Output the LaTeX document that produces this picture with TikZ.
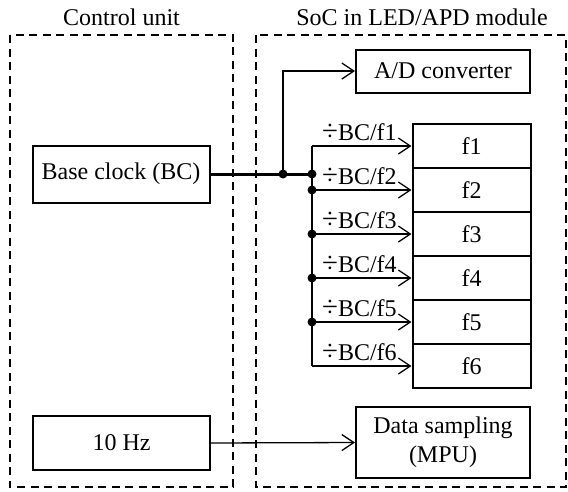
\documentclass[tikz,border=0pt]{standalone}
\usepackage{fontspec}
\setmainfont{Liberation Serif}
\usetikzlibrary{arrows.meta,positioning}

\begin{document}
\begin{tikzpicture}[x=1pt,y=-1pt,
  font=\fontsize{24}{28}\selectfont,
  blk/.style={draw,line width=2pt,inner sep=0pt,align=center},
  grp/.style={draw,line width=1.9pt,dash pattern=on 8pt off 5.5pt},
  sig/.style={line width=1.3pt,-{Straight Barb[length=12pt,width=16pt]}},
  junc/.style={circle,fill,inner sep=0pt,minimum size=9pt}]
  \useasboundingbox (0,0) rectangle (568,491);
  % dashed groups
  \draw[grp] (10,35) rectangle (233,487);
  \draw[grp] (256,35) rectangle (566,487);
  \node[anchor=base] (cu) at (121.5,25) {Control unit};
  \node[anchor=base] (soc) at (422,25) {SoC in LED/APD module};
  % blocks
  \node[blk,minimum width=177pt,minimum height=57pt] (bc) at (121,174) {Base clock (BC)};
  \node[blk,minimum width=177pt,minimum height=54pt] (hz) at (121.5,443) {10 Hz};
  \node[blk,minimum width=174pt,minimum height=43pt] (adc) at (443,71) {A/D converter};
  \node[blk,minimum width=174pt,minimum height=71pt,
        font=\fontsize{24}{29}\selectfont] (mpu) at (443,442.5) {Data sampling\\(MPU)};
  \foreach \i in {1,...,6}
    \node[blk,minimum width=118pt,minimum height=44pt] (f\i) at (471.5,{146+44*(\i-1)}) {f\i};
  % clock distribution
  \coordinate (tap) at (283,174);
  \coordinate (bus) at (312,174);
  \draw[line width=3pt] (bc.east) -- (bus);
  \draw[sig] (tap) |- (adc.west);
  \draw[line width=1.8pt] (f1.west -| bus) -- (f6.west -| bus);
  \foreach \i in {1,...,6} {
    \draw[sig] (f\i.west -| bus) -- (f\i.west);
    \path (f\i.west -| bus) ++(10,-6) node[anchor=base west,inner sep=0pt] (d\i) {\scalebox{1.2}{÷}BC/f\i};
  }
  \node[junc] at (tap) {};
  \node[junc] at (bus) {};
  \foreach \i in {2,...,5}
    \node[junc] at (f\i.west -| bus) {};
  \draw[sig] (hz.east) -- (mpu.west);
\end{tikzpicture}
\end{document}
